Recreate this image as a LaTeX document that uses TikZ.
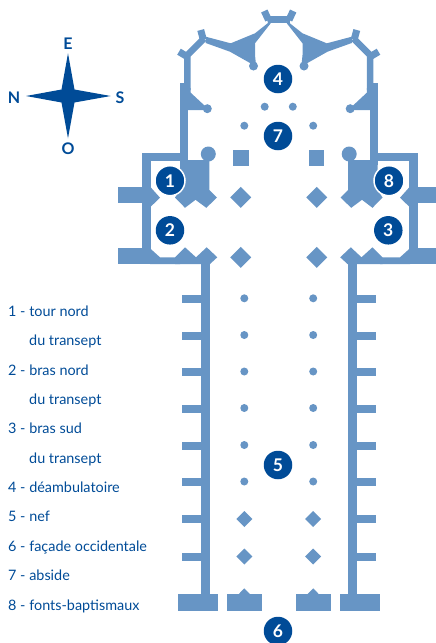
\documentclass[tikz,border=0pt]{standalone}
\usepackage{fontspec}
\setmainfont{Lato}
\definecolor{plan}{HTML}{6795C5}
\definecolor{navy}{HTML}{004B97}
\tikzset{
  planfill/.style={fill=plan},
  planline/.style={draw=plan,line width=7pt},
  numdisc/.style={circle,fill=navy,text=white,inner sep=0pt,minimum size=28.5pt,font=\fontsize{17.5}{17.5}\selectfont\bfseries},
  ringdisc/.style={numdisc,draw=white,line width=1.5pt,minimum size=30pt},
  legend/.style={anchor=base west,inner sep=0pt,text=navy,font=\fontsize{14.4}{14.4}\selectfont},
  cardinal/.style={inner sep=0pt,text=navy,font=\fontsize{16}{16}\selectfont\bfseries}
}
\newcommand{\halfplan}{%
  % apse
  \draw[planline,line width=6.6pt] (278.8,19.5) -- (268,19.5);
  \draw[planline] (264.3,11) -- (268.5,20);
  \draw[planline] (200.7,30) -- (203.3,39.5);
  \draw[planline] (179,51.7) -- (188.3,57.3);
  \draw[planline,line width=6.5pt] (204,38.5) -- (187.4,55) -- (187.4,90);
  \fill[planfill] (268,23) -- (255,33.3) -- (230.7,43.3) -- (205.7,36.7) -- (205.7,43) -- (230,51.7) -- (250,63) -- (256,65) -- (255,55) -- (255,43.3) -- (270.7,23.3) -- (270.7,16) -- (266,16) -- cycle;
  \fill[planfill] (253.5,66) circle (4.5);
  \fill[planfill] (180,83.3) rectangle (187.8,165);
  \fill[planfill] (187,88) -- (190.7,88) -- (190.7,92.7) -- (205,106) -- (207,110) -- (187,110) -- cycle;
  \fill[planfill] (207.3,108.7) circle (4.5);
  \fill[planfill] (264.7,106.7) circle (4);
  \fill[planfill] (244.3,125.7) circle (4);
  % tower
  \fill[planfill] (208.3,154) circle (7.5);
  \fill[planfill] (180,160) -- (209.3,160) -- (209.3,190) -- (217,197.5) -- (206.3,207.8) -- (195.5,199.8) -- (185,207.8) -- (175,197.5) -- (180,190) -- cycle;
  \fill[planfill] (233.3,150) rectangle (249,166);
  % crossing piers
  \fill[planfill] (240.7,186.8) -- (251.2,197.3) -- (240.7,207.8) -- (230.2,197.3) -- cycle;
  \fill[planfill] (240.7,246.8) -- (251.2,257.3) -- (240.7,267.8) -- (230.2,257.3) -- cycle;
  % transept floor and nave wall
  \fill[planfill] (175,264) -- (175,257.3) -- (185,247.3) -- (196,257.3) -- (206.7,247.3) -- (217.3,257.3) -- (210,264) -- cycle;
  \fill[planfill] (201,258) rectangle (210,600);
  % nave buttresses
  \foreach \yy in {299,335.5,372,409,445.5,482,519,556.5}{
    \fill[planfill] (182,\yy-4) rectangle (201,\yy+4);
    }
  % nave columns
  \foreach \yy in {298.3,335,371.5,408,445,481.5}{
    \fill[planfill] (244.3,\yy) circle (4);
    }
  \foreach \yy in {519,556.5}{
    \fill[planfill] (244.3,\yy-8) -- (252.3,\yy) -- (244.3,\yy+8) -- (236.3,\yy) -- cycle;
    }
  % west front
  \fill[planfill] (178,594) rectangle (218,610.7);
  \fill[planfill] (227,594) rectangle (262,610.7);
  \fill[planfill] (238.3,594.5) -- (244.3,588.3) -- (250.3,594.5) -- cycle;
}
\newcommand{\outertransept}{%
  \fill[planfill] (142,153.3) rectangle (185,160.7);
  \fill[planfill] (142,153.3) rectangle (150.7,264.3);
  \fill[planfill] (118,187.3) rectangle (150.7,202.7);
  \fill[planfill] (150.7,187.3) -- (160,197.7) -- (150.7,206.7) -- cycle;
  \fill[planfill] (118,248.3) rectangle (150.7,264);
  \fill[planfill] (150,248.3) -- (160,257.3) -- (180,257.3) -- (180,264) -- (150,264) -- cycle;
}
\begin{document}
\begin{tikzpicture}[x=1pt,y=-1pt]
\clip (0,0) rectangle (436,643);
\useasboundingbox (0,0) rectangle (436,643);
\halfplan
\begin{scope}[shift={(557.5,0)},xscale=-1]
  \halfplan
\end{scope}
\outertransept
\begin{scope}[shift={(560,0)},xscale=-1]
  \outertransept
\end{scope}
% numbered discs
\node[ringdisc] (n1) at (170,180.7) {1};
\node[numdisc] (n2) at (170,230.3) {2};
\node[numdisc] (n3) at (388.3,230.3) {3};
\node[numdisc] (n4) at (278,79) {4};
\node[numdisc] (n5) at (278,465) {5};
\node[numdisc] (n6) at (278,631) {6};
\node[numdisc] (n7) at (278,136) {7};
\node[ringdisc] (n8) at (389,180.7) {8};
% compass
\fill[navy] (68,53.3) -- (74.5,89.5) -- (110.7,96) -- (74.5,102.5) -- (68,138.3) -- (61.5,102.5) -- (26,96) -- (61.5,89.5) -- cycle;
\node[cardinal] (ce) at (68,44) {E};
\node[cardinal] (cn) at (14,97.3) {N};
\node[cardinal] (cs) at (120,97.3) {S};
\node[cardinal] (co) at (68,148.3) {O};
% legend
\node[legend] (l1) at (8,316.2) {1 - tour nord};
\node[legend] (l1b) at (29,345.7) {du transept};
\node[legend] (l2) at (8,375.1) {2 - bras nord};
\node[legend] (l2b) at (29,404.5) {du transept};
\node[legend] (l3) at (8,433.9) {3 - bras sud};
\node[legend] (l3b) at (29,463.3) {du transept};
\node[legend] (l4) at (8,492.5) {4 - déambulatoire};
\node[legend] (l5) at (8,521.8) {5 - nef};
\node[legend] (l6) at (8,551.2) {6 - façade occidentale};
\node[legend] (l7) at (8,580.6) {7 - abside};
\node[legend] (l8) at (8,610) {8 - fonts-baptismaux};
\end{tikzpicture}
\end{document}
